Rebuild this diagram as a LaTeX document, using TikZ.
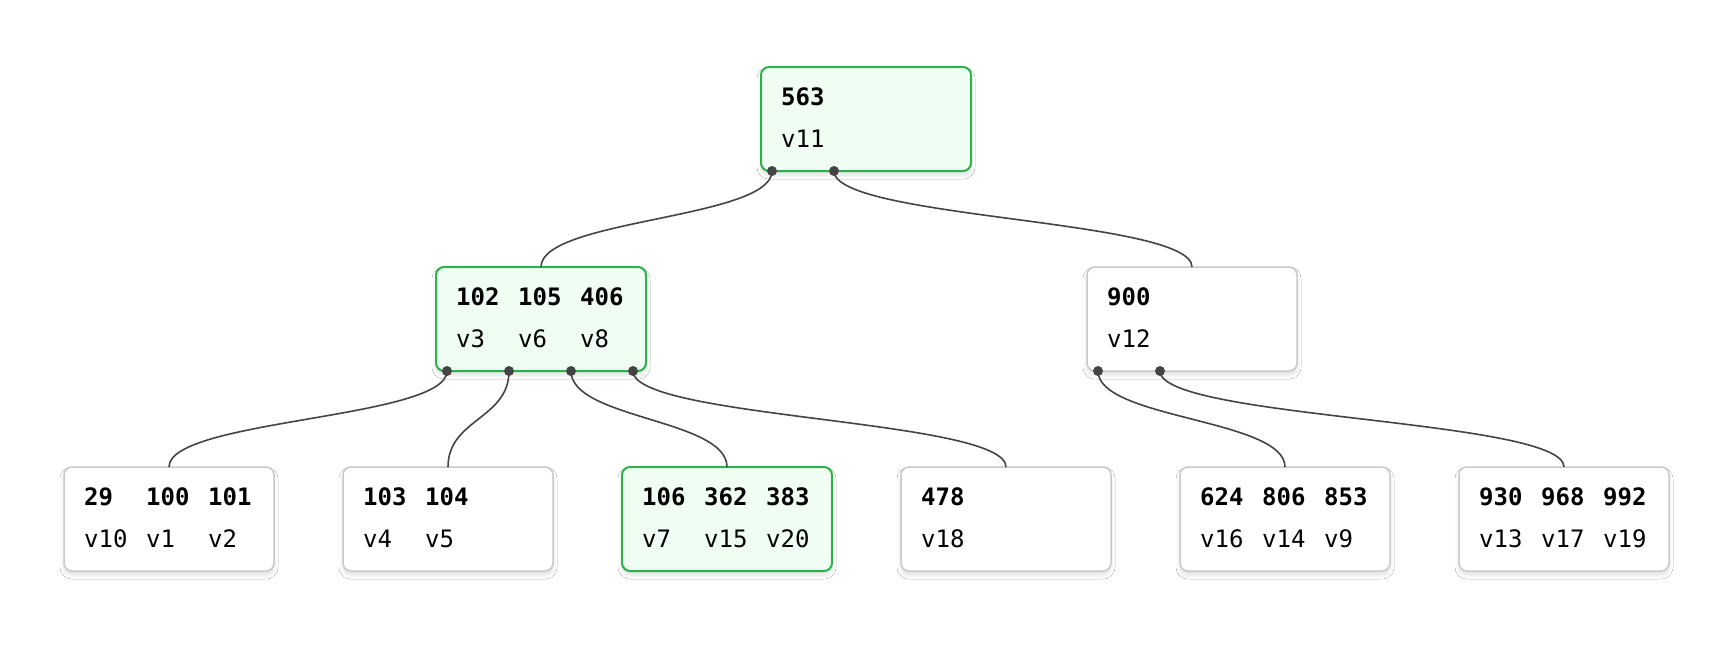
\documentclass[tikz,border=0pt]{standalone}
\usepackage{fontspec}
\setmonofont{DejaVu Sans Mono}
\usetikzlibrary{calc,shadows.blur}
\definecolor{gborder}{HTML}{2DB24B}
\definecolor{gfill}{HTML}{EFFDF3}
\definecolor{wborder}{HTML}{C9C9C9}
\definecolor{linkc}{HTML}{444444}
\tikzset{
 box/.style={draw=wborder, line width=1.5pt, fill=white, rounded corners=8pt,
   minimum width=210pt, minimum height=104pt, inner sep=0pt, outer sep=0pt, anchor=north west,
   blur shadow={shadow xshift=0pt, shadow yshift=-4pt, shadow blur radius=4pt, shadow opacity=12}},
 hbox/.style={box, draw=gborder, fill=gfill, line width=2pt},
 key/.style={anchor=base west, inner sep=0pt, font=\ttfamily\bfseries\fontsize{24}{24}\selectfont},
 val/.style={anchor=base west, inner sep=0pt, font=\ttfamily\fontsize{24}{24}\selectfont},
 link/.style={draw=linkc, line width=1.6pt},
 dot/.style={circle, fill=linkc, minimum size=10pt, inner sep=0pt},
}
\newcommand\mkbox[5]{%
  \node[#1] (#2) at #3 {};
  \foreach \k [count=\i from 0] in {#4} {\node[key] (#2-k\i) at ($(#2.north west)+(20+62*\i,38)$) {\k};}
  \foreach \v [count=\i from 0] in {#5} {\node[val] (#2-v\i) at ($(#2.north west)+(20+62*\i,80)$) {\v};}
}
\begin{document}
\begin{tikzpicture}[x=1pt,y=-1pt]
\fill[white] (0,0) rectangle (1720,646);
\useasboundingbox (0,0) rectangle (1720,646);
\mkbox{hbox}{r}{(761,67)}{563}{v11}
\mkbox{hbox}{ml}{(436,267)}{102,105,406}{v3,v6,v8}
\mkbox{box}{mr}{(1087,267)}{900}{v12}
\mkbox{box}{l1}{(64,467)}{29,100,101}{v10,v1,v2}
\mkbox{box}{l2}{(343,467)}{103,104}{v4,v5}
\mkbox{hbox}{l3}{(622,467)}{106,362,383}{v7,v15,v20}
\mkbox{box}{l4}{(901,467)}{478}{v18}
\mkbox{box}{l5}{(1180,467)}{624,806,853}{v16,v14,v9}
\mkbox{box}{l6}{(1459,467)}{930,968,992}{v13,v17,v19}
% ports
\coordinate (r-p0) at ($(r.south west)+(11,0)$);
\coordinate (r-p1) at ($(r.south west)+(73,0)$);
\coordinate (ml-p0) at ($(ml.south west)+(11,0)$);
\coordinate (ml-p1) at ($(ml.south west)+(73,0)$);
\coordinate (ml-p2) at ($(ml.south west)+(135,0)$);
\coordinate (ml-p3) at ($(ml.south west)+(197,0)$);
\coordinate (mr-p0) at ($(mr.south west)+(11,0)$);
\coordinate (mr-p1) at ($(mr.south west)+(73,0)$);
% links
\draw[link] (r-p0) .. controls +(0,48) and +(0,-48) .. (ml.north);
\draw[link] (r-p1) .. controls +(0,48) and +(0,-48) .. (mr.north);
\draw[link] (ml-p0) .. controls +(0,48) and +(0,-48) .. (l1.north);
\draw[link] (ml-p1) .. controls +(0,48) and +(0,-48) .. (l2.north);
\draw[link] (ml-p2) .. controls +(0,48) and +(0,-48) .. (l3.north);
\draw[link] (ml-p3) .. controls +(0,48) and +(0,-48) .. (l4.north);
\draw[link] (mr-p0) .. controls +(0,48) and +(0,-48) .. (l5.north);
\draw[link] (mr-p1) .. controls +(0,48) and +(0,-48) .. (l6.north);
% dots
\foreach \p in {r-p0,r-p1,ml-p0,ml-p1,ml-p2,ml-p3,mr-p0,mr-p1}
  \node[dot] (\p-dot) at (\p) {};
\end{tikzpicture}
\end{document}
